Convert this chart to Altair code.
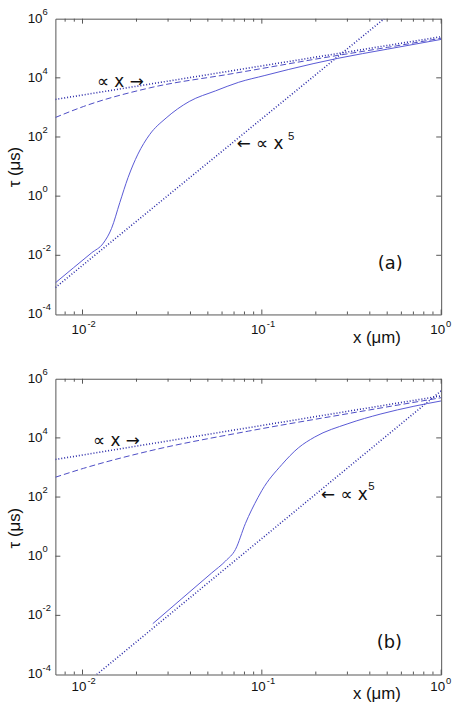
import altair as alt
import pandas as pd

# ---------------- data ----------------
# Panel (a)
a_solid_x = [0.00706, 0.008913, 0.01122, 0.01306, 0.01452, 0.01614, 0.01795, 0.02037,
             0.02366, 0.02924, 0.03936, 0.05521, 0.0743, 0.1040, 0.1403, 0.2655,
             0.501, 1.0]
a_solid_tau = [1.175e-3, 3.80e-3, 0.01202, 0.0257, 0.0813, 0.603, 4.27, 26.3,
               120, 437, 1585, 3631, 7079, 12020, 19050, 45710,
               93330, 199500]
a_dash_x = [0.00706, 0.01012, 0.02366, 0.0682, 0.2655, 0.501, 1.0]
a_dash_tau = [457, 1072, 4571, 13800, 57500, 107000, 219000]
a_lin_x = [0.00706, 1.0]
a_lin_tau = [1862, 245500]
a_pow5_x = [0.00706, 0.481]
a_pow5_tau = [8.13e-4, 1.0e6]

# Panel (b)
b_solid_x = [0.02466, 0.03548, 0.05248, 0.06281, 0.07129, 0.08091, 0.09506, 0.1,
             0.1294, 0.1596, 0.1972, 0.302, 0.4613, 0.7047, 1.0]
b_solid_tau = [5.25e-3, 0.0351, 0.2704, 0.692, 1.698, 12.59, 95.5, 166,
               1259, 4571, 10720, 30200, 64570, 117500, 177800]
b_dash_x = [0.00706, 0.01012, 0.02366, 0.0843, 0.302, 1.0]
b_dash_tau = [468, 933, 3631, 16980, 66070, 229000]
b_lin_x = [0.00706, 1.0]
b_lin_tau = [1862, 263000]
b_pow5_x = [0.012, 1.0]
b_pow5_tau = [1.0e-4, 3.9e5]

# Axes
x_domain = [0.00706, 1.0]
y_domain = [1e-4, 1e6]
x_major = [0.01, 0.1, 1.0]
x_major_exp = ["-2", "-1", "0"]
x_minor = [0.008, 0.009, 0.02, 0.03, 0.04, 0.05, 0.06, 0.07, 0.08, 0.09,
           0.2, 0.3, 0.4, 0.5, 0.6, 0.7, 0.8, 0.9]
y_major = [1e-4, 1e-2, 1e0, 1e2, 1e4, 1e6]
y_major_exp = ["-4", "-2", "0", "2", "4", "6"]

# Annotations (data coordinates)
ann_a = {"x": [0.01205, 0.0724], "tau": [7244, 57.5], "text": ["∝ x →", "← ∝ x"]}
ann_a_sup = {"x": [0.140], "tau": [97.7], "text": ["5"]}
ann_b = {"x": [0.01146, 0.2138], "tau": [7674, 117], "text": ["∝ x →", "← ∝ x"]}
ann_b_sup = {"x": [0.392], "tau": [214], "text": ["5"]}
panel_label_a = {"x": [0.52], "tau": [5.25e-3], "text": ["(a)"]}
panel_label_b = {"x": [0.514], "tau": [1.12e-3], "text": ["(b)"]}

# ---------------- styling ----------------
W, H = 390, 299
FONT = "Liberation Sans"
FRAME = "#555555"
C_SOLID = "#5858d4"
C_DASH = "#4c4cc4"
C_DOT = "#2a2aa8"

xs = alt.Scale(type="log", domain=x_domain, nice=False)
ys = alt.Scale(type="log", domain=y_domain, nice=False)


def line_layer(xv, yv, color, width, dash=None, interp="linear"):
    df = pd.DataFrame({"x": xv, "tau": yv})
    kw = dict(color=color, strokeWidth=width, clip=True, interpolate=interp)
    if dash is not None:
        kw["strokeDash"] = dash
    return alt.Chart(df).mark_line(**kw).encode(
        x=alt.X("x:Q", scale=xs, axis=None),
        y=alt.Y("tau:Q", scale=ys, axis=None),
    )


def text_layer(d, size, align="left", dx=0, dy=0, font=FONT):
    df = pd.DataFrame(d)
    return alt.Chart(df).mark_text(
        font=font, fontSize=size, align=align, baseline="middle",
        dx=dx, dy=dy, color="#111111"
    ).encode(
        x=alt.X("x:Q", scale=xs, axis=None),
        y=alt.Y("tau:Q", scale=ys, axis=None),
        text="text:N",
    )


def panel(solid, dash, lin, pow5, ann, ann_sup, plabel, xlab_off, xtitle_off, ytitle_y):
    layers = []
    # ticks (inside, MATLAB style)
    dfx_major = pd.DataFrame({"v": x_major})
    dfx_minor = pd.DataFrame({"v": x_minor})
    dfy = pd.DataFrame({"v": y_major[1:-1]})
    for dfx, ln in ((dfx_major, 5), (dfx_minor, 3)):
        layers.append(alt.Chart(dfx).mark_rule(color=FRAME, strokeWidth=1).encode(
            x=alt.X("v:Q", scale=xs, axis=None), y=alt.value(H), y2=alt.value(H - ln)))
        layers.append(alt.Chart(dfx).mark_rule(color=FRAME, strokeWidth=1).encode(
            x=alt.X("v:Q", scale=xs, axis=None), y=alt.value(0), y2=alt.value(ln)))
    layers.append(alt.Chart(dfy).mark_rule(color=FRAME, strokeWidth=1).encode(
        y=alt.Y("v:Q", scale=ys, axis=None), x=alt.value(0), x2=alt.value(5)))
    layers.append(alt.Chart(dfy).mark_rule(color=FRAME, strokeWidth=1).encode(
        y=alt.Y("v:Q", scale=ys, axis=None), x=alt.value(W), x2=alt.value(W - 5)))

    # tick labels
    dfyl = pd.DataFrame({"v": y_major, "e": y_major_exp})
    layers.append(alt.Chart(dfyl).mark_text(font=FONT, fontSize=13.5, align="left",
                                            baseline="middle", color="#111111").encode(
        y=alt.Y("v:Q", scale=ys, axis=None), x=alt.value(-28), text=alt.value("10")))
    layers.append(alt.Chart(dfyl).mark_text(font=FONT, fontSize=9.5, align="left",
                                            baseline="middle", dy=-7, color="#111111").encode(
        y=alt.Y("v:Q", scale=ys, axis=None), x=alt.value(-13), text="e:N"))
    dfxl = pd.DataFrame({"v": x_major, "e": x_major_exp})
    layers.append(alt.Chart(dfxl).mark_text(font=FONT, fontSize=13.5, align="right",
                                            baseline="middle", dx=4, color="#111111").encode(
        x=alt.X("v:Q", scale=xs, axis=None), y=alt.value(H + xlab_off), text=alt.value("10")))
    layers.append(alt.Chart(dfxl).mark_text(font=FONT, fontSize=9.5, align="left",
                                            baseline="middle", dx=5, dy=-6, color="#111111").encode(
        x=alt.X("v:Q", scale=xs, axis=None), y=alt.value(H + xlab_off), text="e:N"))

    # axis titles
    layers.append(alt.Chart(pd.DataFrame({"t": ["x (μm)"]})).mark_text(
        font=FONT, fontSize=17, align="center", baseline="middle", color="#111111").encode(
        x=alt.value(325), y=alt.value(H + xtitle_off), text="t:N"))
    layers.append(alt.Chart(pd.DataFrame({"t": ["τ (μs)"]})).mark_text(
        font=FONT, fontSize=17, align="center", baseline="middle", angle=270,
        color="#111111").encode(
        x=alt.value(-41), y=alt.value(ytitle_y), text="t:N"))

    # curves
    layers.append(line_layer(lin[0], lin[1], C_DOT, 1.6, [1, 2]))
    layers.append(line_layer(pow5[0], pow5[1], C_DOT, 1.6, [1, 2]))
    layers.append(line_layer(dash[0], dash[1], C_DASH, 1.0, [6, 3], "monotone"))
    layers.append(line_layer(solid[0], solid[1], C_SOLID, 1.0, None, "monotone"))

    # annotations
    layers.append(text_layer(ann, 17, font="DejaVu Sans"))
    layers.append(text_layer(ann_sup, 11.5))
    layers.append(text_layer(plabel, 18, align="center", font="DejaVu Sans"))

    return alt.layer(*layers).properties(width=W, height=H)


pa = panel((a_solid_x, a_solid_tau), (a_dash_x, a_dash_tau), (a_lin_x, a_lin_tau),
           (a_pow5_x, a_pow5_tau), ann_a, ann_a_sup, panel_label_a, 16, 24, 150)
pb = panel((b_solid_x, b_solid_tau), (b_dash_x, b_dash_tau), (b_lin_x, b_lin_tau),
           (b_pow5_x, b_pow5_tau), ann_b, ann_b_sup, panel_label_b, 13, 20, 151)

chart = alt.vconcat(pa, pb, spacing=65, bounds="flush").properties(
    padding={"left": 5, "top": 2, "right": 5, "bottom": 5},
    background="white",
).configure_view(stroke=FRAME, strokeWidth=1)

chart.save("out.html", embed_options={"renderer": "svg", "actions": False})
